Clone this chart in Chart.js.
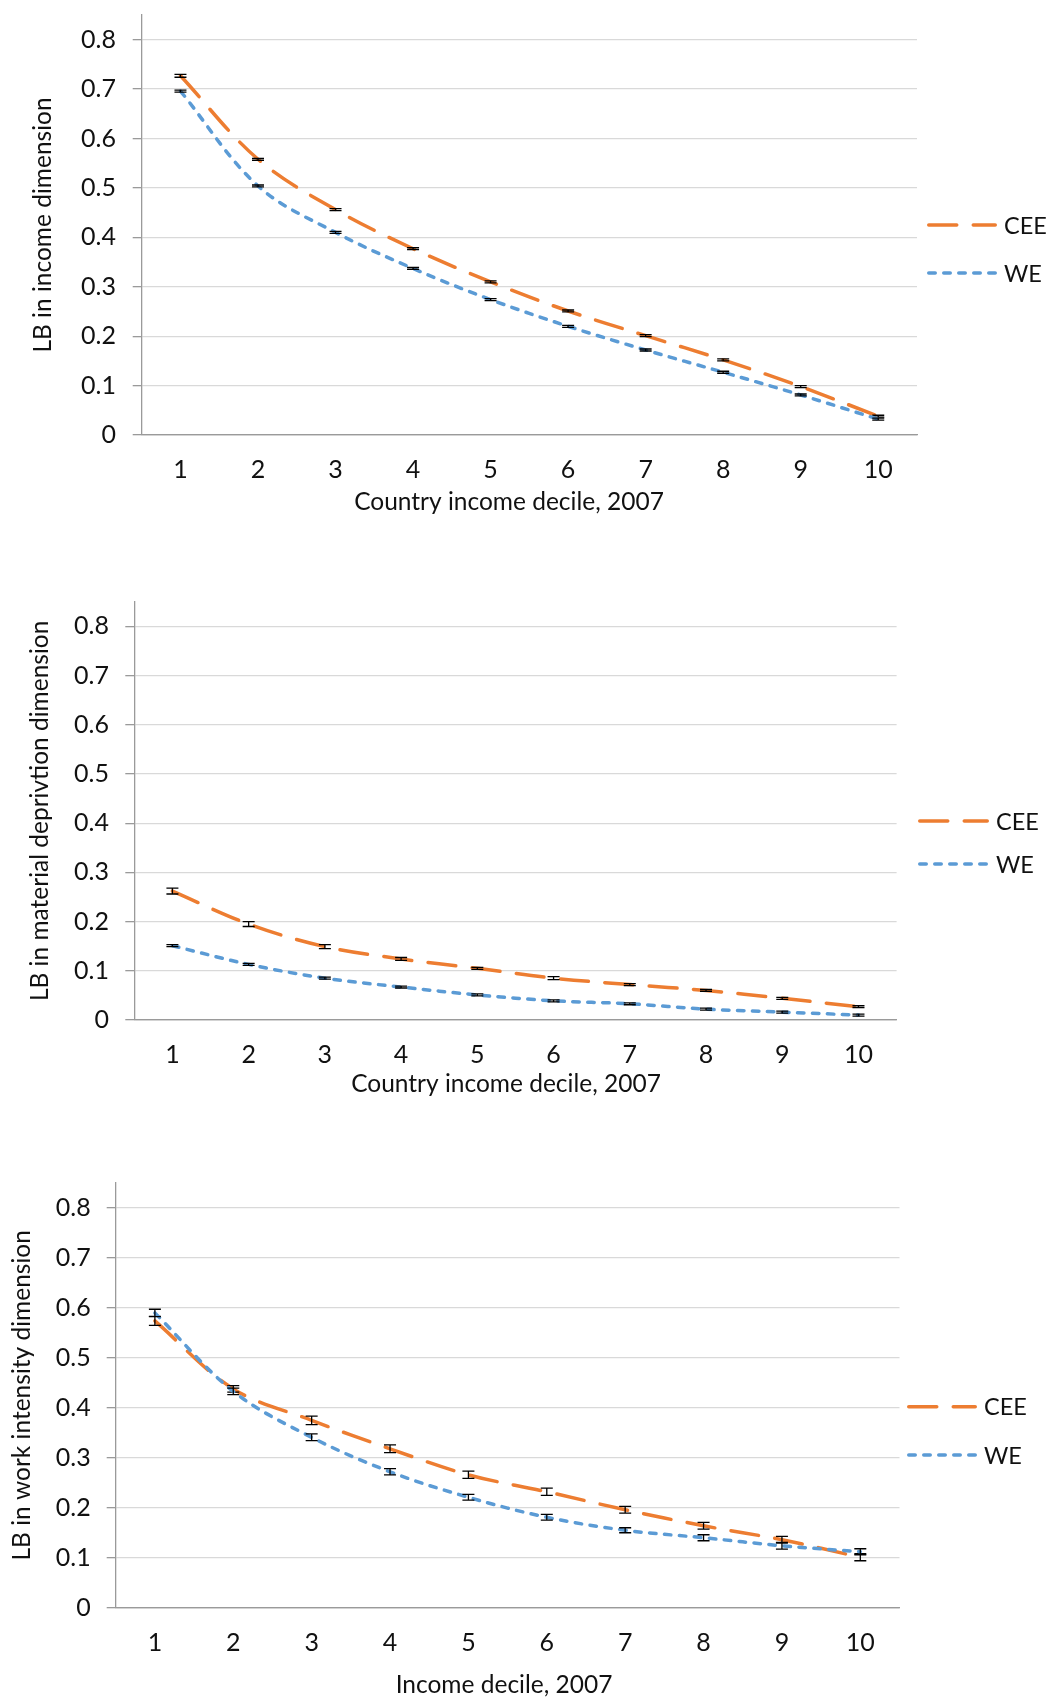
<!DOCTYPE html>
<html>
<head>
<meta charset="utf-8">
<script src="https://cdn.jsdelivr.net/npm/chart.js@4.4.1/dist/chart.umd.min.js"></script>
<style>
  html, body { margin: 0; padding: 0; background: #fff; }
  body { width: 1046px; height: 1697px; overflow: hidden; position: relative; }
  .panel { position: absolute; left: 0; }
  .panel canvas { display: block; }
</style>
</head>
<body>
<div class="panel" id="p1"><canvas id="c1"></canvas></div>
<div class="panel" id="p2"><canvas id="c2"></canvas></div>
<div class="panel" id="p3"><canvas id="c3"></canvas></div>
<script>
// ---- categories, tick labels, series names ----
const decileLabels = ['1', '2', '3', '4', '5', '6', '7', '8', '9', '10'];
const yTickValues = [0, 0.1, 0.2, 0.3, 0.4, 0.5, 0.6, 0.7, 0.8];
const seriesNames = ['CEE', 'WE'];

// ---- LB in income dimension ----
const incomeCEE    = [0.727, 0.558, 0.456, 0.377, 0.310, 0.251, 0.201, 0.152, 0.098, 0.038];
const incomeCEEErr = [0.003, 0.002, 0.002, 0.002, 0.002, 0.002, 0.002, 0.002, 0.002, 0.002];
const incomeWE     = [0.696, 0.504, 0.410, 0.337, 0.274, 0.220, 0.172, 0.127, 0.081, 0.032];
const incomeWEErr  = [0.002, 0.002, 0.002, 0.002, 0.002, 0.002, 0.002, 0.002, 0.002, 0.002];

// ---- LB in material deprivation dimension ----
const matCEE    = [0.262, 0.195, 0.149, 0.124, 0.105, 0.085, 0.072, 0.060, 0.044, 0.027];
const matCEEErr = [0.006, 0.005, 0.004, 0.003, 0.002, 0.003, 0.002, 0.002, 0.002, 0.002];
const matWE     = [0.151, 0.113, 0.085, 0.067, 0.051, 0.039, 0.033, 0.022, 0.016, 0.010];
const matWEErr  = [0.002, 0.002, 0.002, 0.002, 0.002, 0.002, 0.002, 0.002, 0.002, 0.002];

// ---- LB in work intensity dimension ----
const workCEE    = [0.574, 0.438, 0.375, 0.318, 0.266, 0.232, 0.196, 0.164, 0.136, 0.101];
const workCEEErr = [0.009, 0.0065, 0.0085, 0.0077, 0.0073, 0.0073, 0.0067, 0.0067, 0.0067, 0.007];
const workWE     = [0.590, 0.433, 0.341, 0.272, 0.221, 0.181, 0.155, 0.140, 0.124, 0.112];
const workWEErr  = [0.0073, 0.0065, 0.0067, 0.0063, 0.0057, 0.0057, 0.005, 0.006, 0.0067, 0.006];

// ---- styling ----
const FONT = 'Lato, "Open Sans", sans-serif';
const TEXT = '#111111';
const GRID = '#d9d9d9';
const AXIS = '#9a9a9a';
const ORANGE = '#ED7D31';
const BLUE = '#5B9BD5';
const TICK_FS = 25;
const TITLE_FS = 24.5;
const LEGEND_FS = 23.5;
const TICK_HALF = TICK_FS * 1.2 / 2;
const TITLE_HALF = TITLE_FS * 1.2 / 2;
const TICK_LEN = 9;
const X_BOX = 100;

Chart.defaults.font.family = FONT;
Chart.defaults.font.size = TICK_FS;
Chart.defaults.color = TEXT;

// error bars drawn right after each line, from the err arrays
const errorBars = {
  id: 'errorBars',
  afterDatasetDraw(chart, args) {
    const ds = chart.data.datasets[args.index];
    if (!ds.errors) return;
    const meta = args.meta;
    const ys = chart.scales.y;
    const ctx = chart.ctx;
    ctx.save();
    ctx.strokeStyle = '#000';
    ctx.lineWidth = 1.3;
    ctx.setLineDash([]);
    meta.data.forEach((pt, j) => {
      const v = ds.data[j], e = ds.errors[j];
      const yHi = ys.getPixelForValue(v + e);
      const yLo = ys.getPixelForValue(v - e);
      ctx.beginPath();
      ctx.moveTo(pt.x, yHi); ctx.lineTo(pt.x, yLo);
      ctx.moveTo(pt.x - 6, yHi); ctx.lineTo(pt.x + 6, yHi);
      ctx.moveTo(pt.x - 6, yLo); ctx.lineTo(pt.x + 6, yLo);
      ctx.stroke();
    });
    ctx.restore();
  }
};

// legend on the right (dashed sample line + series name) and the x-axis caption
const sideLegend = {
  id: 'sideLegend',
  afterDraw(chart, args, opts) {
    const ctx = chart.ctx;
    ctx.save();
    chart.data.datasets.forEach((ds, i) => {
      const y = opts.ys[i];
      ctx.strokeStyle = ds.borderColor;
      ctx.lineWidth = ds.borderWidth;
      ctx.lineCap = 'round';
      ctx.setLineDash(ds.borderDash);
      ctx.beginPath();
      ctx.moveTo(opts.x0 + ds.borderWidth / 2, y);
      ctx.lineTo(opts.x1 - ds.borderWidth / 2, y);
      ctx.stroke();
      ctx.setLineDash([]);
      ctx.fillStyle = TEXT;
      ctx.font = LEGEND_FS + 'px ' + FONT;
      ctx.textBaseline = 'middle';
      ctx.textAlign = 'left';
      ctx.fillText(ds.label, opts.textX, y + 1);
    });
    ctx.fillStyle = TEXT;
    ctx.font = TITLE_FS + 'px ' + FONT;
    ctx.textBaseline = 'middle';
    ctx.textAlign = 'center';
    ctx.fillText(opts.caption, opts.captionX, opts.captionY);
    ctx.restore();
  }
};

const panels = [
  {
    canvas: 'c1', panel: 'p1',
    areaTop: 15, areaBottom: 435, areaLeft: 141.7, areaRight: 917,
    xLabelY: 470, xTitleX: 509, xTitleY: 502, yTitleX: 43, yLabelRight: 116,
    legend: { x0: 927, x1: 997, textX: 1004, ys: [225, 273] },
    xTitle: 'Country income decile, 2007', yTitle: 'LB in income dimension',
    cee: incomeCEE, ceeErr: incomeCEEErr, we: incomeWE, weErr: incomeWEErr
  },
  {
    canvas: 'c2', panel: 'p2',
    areaTop: 601.7, areaBottom: 1020, areaLeft: 134.3, areaRight: 896.6,
    xLabelY: 1055, xTitleX: 506, xTitleY: 1084, yTitleX: 40, yLabelRight: 109,
    legend: { x0: 918, x1: 989, textX: 996, ys: [821, 864] },
    xTitle: 'Country income decile, 2007', yTitle: 'LB in material deprivtion dimension',
    cee: matCEE, ceeErr: matCEEErr, we: matWE, weErr: matWEErr
  },
  {
    canvas: 'c3', panel: 'p3',
    areaTop: 1183, areaBottom: 1607.7, areaLeft: 115.7, areaRight: 899.5,
    xLabelY: 1643, xTitleX: 504, xTitleY: 1685, yTitleX: 22, yLabelRight: 90.7,
    legend: { x0: 907, x1: 977, textX: 984, ys: [1406.7, 1455] },
    xTitle: 'Income decile, 2007', yTitle: 'LB in work intensity dimension',
    cee: workCEE, ceeErr: workCEEErr, we: workWE, weErr: workWEErr
  }
];

panels.forEach(p => {
  const top = Math.floor(p.areaTop) - 40;
  const padTop = p.areaTop - top;
  const height = Math.ceil(p.areaBottom - top + X_BOX);
  const xBoxH = height - (p.areaBottom - top);

  const div = document.getElementById(p.panel);
  div.style.top = top + 'px';
  const cv = document.getElementById(p.canvas);
  cv.width = 1046; cv.height = height;
  cv.style.width = '1046px'; cv.style.height = height + 'px';

  const rel = v => v - top;

  new Chart(cv, {
    type: 'line',
    data: {
      labels: decileLabels,
      datasets: [
        {
          label: seriesNames[0], data: p.cee, errors: p.ceeErr,
          borderColor: ORANGE, backgroundColor: ORANGE,
          borderWidth: 3.5, borderDash: [28, 16.5], borderCapStyle: 'round',
          pointRadius: 0, pointHoverRadius: 0, tension: 0.35, fill: false, order: 1
        },
        {
          label: seriesNames[1], data: p.we, errors: p.weErr,
          borderColor: BLUE, backgroundColor: BLUE,
          borderWidth: 3.5, borderDash: [6.5, 8.5], borderCapStyle: 'round',
          pointRadius: 0, pointHoverRadius: 0, tension: 0.35, fill: false, order: 0
        }
      ]
    },
    options: {
      responsive: false,
      animation: false,
      devicePixelRatio: 1,
      events: [],
      layout: {
        autoPadding: false,
        padding: { top: padTop, left: 0, right: 1046 - p.areaRight, bottom: 0 }
      },
      plugins: {
        legend: { display: false },
        tooltip: { enabled: false },
        sideLegend: {
          x0: p.legend.x0, x1: p.legend.x1, textX: p.legend.textX, ys: p.legend.ys.map(rel),
          caption: p.xTitle, captionX: p.xTitleX, captionY: rel(p.xTitleY)
        }
      },
      scales: {
        x: {
          type: 'category',
          offset: true,
          grid: { display: false, drawTicks: false, drawOnChartArea: false },
          border: { display: true, color: AXIS, width: 1.3 },
          ticks: { padding: p.xLabelY - p.areaBottom - TICK_HALF, color: TEXT, maxRotation: 0, autoSkip: false, font: { size: TICK_FS } },
          title: { display: false },
          afterFit(scale) { scale.height = xBoxH; }
        },
        y: {
          type: 'linear',
          min: 0, max: 0.85,
          afterBuildTicks(scale) { scale.ticks = yTickValues.map(v => ({ value: v })); },
          grid: {
            color: ctx => (ctx.tick && ctx.tick.value === 0) ? AXIS : GRID,
            lineWidth: 1.3,
            drawTicks: true, tickLength: TICK_LEN, tickColor: AXIS, tickWidth: 1.3
          },
          border: { display: true, color: AXIS, width: 1.3 },
          ticks: {
            padding: p.areaLeft - TICK_LEN - p.yLabelRight,
            color: TEXT, font: { size: TICK_FS },
            callback: v => String(v)
          },
          title: {
            display: true, text: p.yTitle, color: TEXT, font: { size: TITLE_FS },
            padding: { top: p.yTitleX - TITLE_HALF, bottom: 0 }
          },
          afterFit(scale) { scale.width = p.areaLeft; }
        }
      }
    },
    plugins: [errorBars, sideLegend]
  });
});
</script>
</body>
</html>
